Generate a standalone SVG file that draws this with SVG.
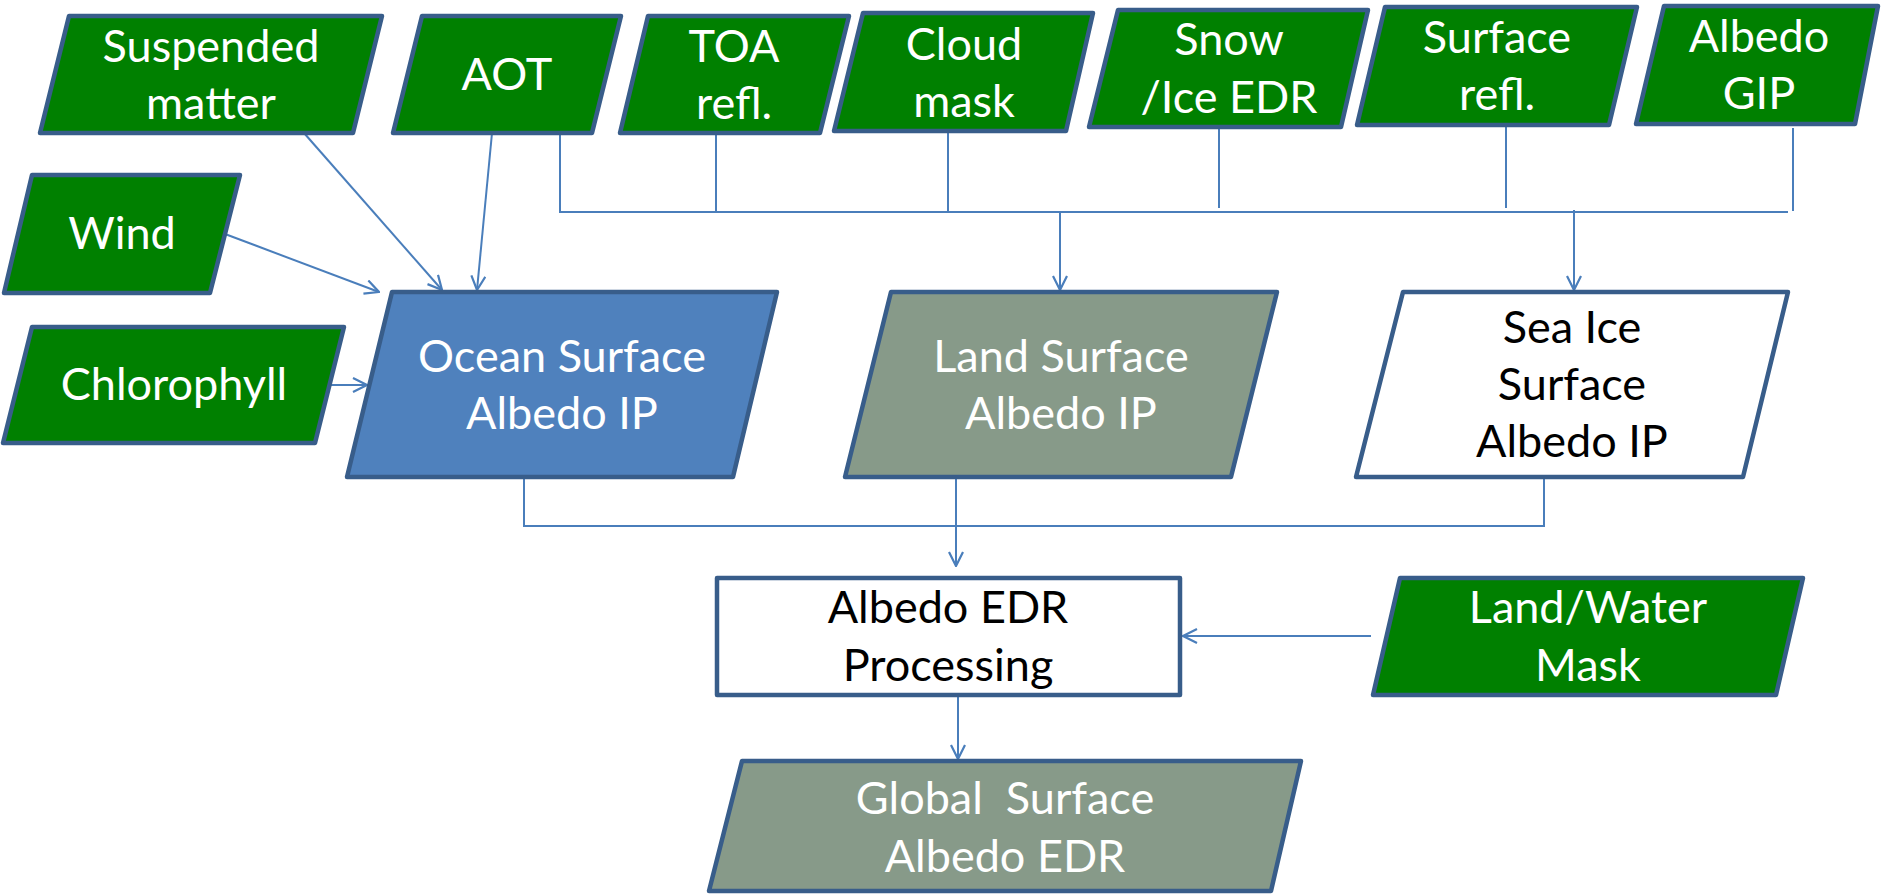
<svg xmlns="http://www.w3.org/2000/svg" width="1882" height="894" viewBox="0 0 1882 894">
<style>
.g{fill:#008000;stroke:#385D8A;stroke-width:4.5;stroke-linejoin:round}
.b{fill:#4F81BD;stroke:#385D8A;stroke-width:4.5;stroke-linejoin:round}
.s{fill:#879A89;stroke:#385D8A;stroke-width:4.5;stroke-linejoin:round}
.w{fill:#FFFFFF;stroke:#385D8A;stroke-width:4.5;stroke-linejoin:round}
text{font-family:Lato,"Open Sans","Liberation Sans",sans-serif;font-size:45px;text-anchor:middle;white-space:pre}
.tw{fill:#FFFFFF}
.tk{fill:#000000}
.c{fill:none;stroke:#4A7EBB;stroke-width:2}
</style>
<defs>
<marker id="ar" viewBox="0 0 16 16" refX="15" refY="8" markerWidth="16" markerHeight="16" markerUnits="userSpaceOnUse" orient="auto">
<path d="M1,1 L15,8 L1,15" fill="none" stroke="#4A7EBB" stroke-width="2.2"/>
</marker>
</defs>
<g id="connectors">
<path class="c" d="M304,133 L442,290" marker-end="url(#ar)"/>
<path class="c" d="M492,133 L477,290" marker-end="url(#ar)"/>
<path class="c" d="M225,234 L379,292" marker-end="url(#ar)"/>
<path class="c" d="M331,385 L367,385" marker-end="url(#ar)"/>
<path class="c" d="M560,133 V212 H1788"/>
<path class="c" d="M716,133 V212"/>
<path class="c" d="M948,131 V212"/>
<path class="c" d="M1219,127 V208"/>
<path class="c" d="M1506,125 V208"/>
<path class="c" d="M1793,128 V211"/>
<path class="c" d="M1060,212 V290" marker-end="url(#ar)"/>
<path class="c" d="M1574,210 V290" marker-end="url(#ar)"/>
<path class="c" d="M524,477 V526 H1544 V477"/>
<path class="c" d="M956,477 V566" marker-end="url(#ar)"/>
<path class="c" d="M1371,636 H1183" marker-end="url(#ar)"/>
<path class="c" d="M958,695 V759" marker-end="url(#ar)"/>
</g>
<g id="suspended">
<polygon class="g" points="69,16 382,16 353,133 40,133"/>
<text class="tw" x="211" y="62">Suspended</text>
<text class="tw" x="211" y="119">matter</text>
</g>
<g id="aot">
<polygon class="g" points="422,16 621,16 592,133 393,133"/>
<text class="tw" x="507" y="90">AOT</text>
</g>
<g id="toa">
<polygon class="g" points="648,16 849,16 820,133 620,133"/>
<text class="tw" x="734" y="62">TOA</text>
<text class="tw" x="734" y="119">refl.</text>
</g>
<g id="cloud">
<polygon class="g" points="863,13 1093,13 1066,131 834,131"/>
<text class="tw" x="964" y="60">Cloud</text>
<text class="tw" x="964" y="117">mask</text>
</g>
<g id="snow">
<polygon class="g" points="1118,10 1368,10 1341,127 1089,127"/>
<text class="tw" x="1229" y="55">Snow</text>
<text class="tw" x="1229" y="113">/Ice EDR</text>
</g>
<g id="surfrefl">
<polygon class="g" points="1385,7 1637,7 1609,125 1357,125"/>
<text class="tw" x="1497" y="53">Surface</text>
<text class="tw" x="1497" y="110">refl.</text>
</g>
<g id="gip">
<polygon class="g" points="1664,6 1878,6 1855,124 1636,124"/>
<text class="tw" x="1759" y="52">Albedo</text>
<text class="tw" x="1759" y="109">GIP</text>
</g>
<g id="wind">
<polygon class="g" points="32,175 240,175 210,293 4,293"/>
<text class="tw" x="122" y="249">Wind</text>
</g>
<g id="chlorophyll">
<polygon class="g" points="32,327 344,327 315,443 3,443"/>
<text class="tw" x="174" y="400">Chlorophyll</text>
</g>
<g id="ocean">
<polygon class="b" points="392,292 777,292 733,477 347,477"/>
<text class="tw" x="562" y="372">Ocean Surface</text>
<text class="tw" x="562" y="429">Albedo IP</text>
</g>
<g id="land">
<polygon class="s" points="891,292 1277,292 1231,477 845,477"/>
<text class="tw" x="1061" y="372">Land Surface</text>
<text class="tw" x="1061" y="429">Albedo IP</text>
</g>
<g id="seaice">
<polygon class="w" points="1403,292 1788,292 1743,477 1356,477"/>
<text class="tk" x="1572" y="343">Sea Ice</text>
<text class="tk" x="1572" y="400">Surface</text>
<text class="tk" x="1572" y="457">Albedo IP</text>
</g>
<g id="processing">
<rect class="w" x="717" y="578" width="463" height="117"/>
<text class="tk" x="948" y="623">Albedo EDR</text>
<text class="tk" x="948" y="681">Processing</text>
</g>
<g id="landwater">
<polygon class="g" points="1400,578 1803,578 1776,695 1373,695"/>
<text class="tw" x="1588" y="623">Land/Water</text>
<text class="tw" x="1588" y="681">Mask</text>
</g>
<g id="global">
<polygon class="s" points="742,761 1301,761 1271,891 709,891"/>
<text class="tw" x="1005" y="814">Global  Surface</text>
<text class="tw" x="1005" y="872">Albedo EDR</text>
</g>
</svg>
